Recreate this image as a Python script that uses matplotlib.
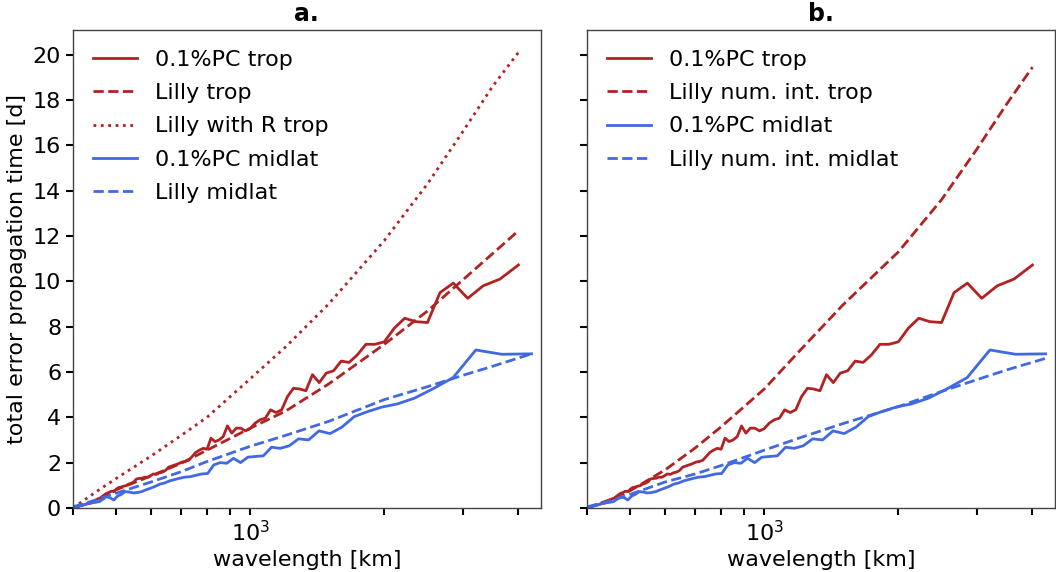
import numpy as np
import matplotlib
matplotlib.use("Agg")
import matplotlib.pyplot as plt
from matplotlib.ticker import NullFormatter, LogLocator

# zonal wavenumbers of the 0.1%PC curves (wavelength = circumference / k)
k_trop = list(range(10, 101))
k_mid = list(range(6, 65))
circ_trop = 40000.0   # km, equator
circ_mid = 25680.0    # km, midlatitudes

pc_trop = [10.72, 10.10, 9.80, 9.25, 9.92, 9.50, 8.18, 8.22, 8.37, 7.93,
           7.33, 7.22, 7.22, 6.75, 6.42, 6.48, 6.05, 5.95, 5.53, 5.88,
           5.17, 5.25, 5.28, 4.91, 4.33, 4.21, 4.33, 3.96, 3.89, 3.74,
           3.50, 3.40, 3.52, 3.52, 3.30, 3.62, 3.15, 3.00, 2.93, 3.08,
           2.59, 2.63, 2.55, 2.45, 2.27, 2.10, 2.05, 2.02, 1.95, 1.90,
           1.85, 1.80, 1.65, 1.58, 1.55, 1.48, 1.50, 1.42, 1.35, 1.36,
           1.31, 1.30, 1.28, 1.15, 1.09, 1.05, 0.98, 0.96, 0.92, 0.90,
           0.82, 0.72, 0.74, 0.68, 0.65, 0.58, 0.50, 0.43, 0.40, 0.33,
           0.27, 0.22, 0.20, 0.18, 0.15, 0.13, 0.11, 0.08, 0.06, 0.04, 0.02]

pc_mid = [6.80, 6.78, 6.97, 5.75, 5.25, 4.84, 4.59, 4.45, 4.25, 4.03,
          3.56, 3.28, 3.40, 3.00, 3.05, 2.74, 2.63, 2.68, 2.30, 2.27,
          2.24, 2.00, 2.19, 1.97, 2.00, 1.90, 1.52, 1.50, 1.44, 1.38,
          1.36, 1.31, 1.25, 1.19, 1.10, 1.05, 0.95, 0.87, 0.80, 0.72,
          0.68, 0.66, 0.70, 0.72, 0.60, 0.52, 0.35, 0.45, 0.50, 0.38,
          0.28, 0.25, 0.23, 0.21, 0.17, 0.12, 0.09, 0.05, 0.03]

# Lilly estimates
wl_lilly_trop = [400, 450, 500, 600, 700, 800, 1000, 1200, 1500, 2000, 2500, 3000, 3500, 4000]
wl_lilly_mid = [400, 450, 500, 600, 700, 800, 1000, 1200, 1500, 2000, 2500, 3000, 3500, 4280]

lilly_trop = [0, 0.3, 0.8, 1.42, 1.97, 2.55, 3.52, 4.27, 5.47, 7.22, 8.69, 10.06, 11.22, 12.23]
lilly_R_trop = [0, 0.7, 1.3, 2.3, 3.2, 4.0, 5.7, 7.1, 9.0, 11.8, 14.3, 16.6, 18.6, 20.1]
lilly_mid = [0.05, 0.35, 0.65, 1.15, 1.6, 2.05, 2.72, 3.2, 3.82, 4.78, 5.35, 5.85, 6.25, 6.8]

lilly_num_trop = [0, 0.36, 0.76, 1.69, 2.65, 3.58, 5.25, 6.93, 8.95, 11.3, 13.6, 15.83, 17.82, 19.45]
lilly_num_mid = [0.05, 0.3, 0.6, 1.15, 1.5, 1.87, 2.55, 3.09, 3.72, 4.47, 5.14, 5.66, 6.09, 6.6]

wl_trop = circ_trop / np.array(k_trop)
wl_mid = circ_mid / np.array(k_mid)

red = "firebrick"
blue = "royalblue"
fs = 16

fig = plt.figure(figsize=(10.56, 5.72), dpi=100)
ax1 = fig.add_axes([0.0691, 0.112, 0.443, 0.836])
ax2 = fig.add_axes([0.5559, 0.112, 0.443, 0.836], sharey=ax1)

# panel a
ax1.plot(wl_trop, pc_trop, color=red, lw=2, label="0.1%PC trop")
ax1.plot(wl_lilly_trop, lilly_trop, color=red, lw=2, ls="--", label="Lilly trop")
ax1.plot(wl_lilly_trop, lilly_R_trop, color=red, lw=2, ls=":", label="Lilly with R trop")
ax1.plot(wl_mid, pc_mid, color=blue, lw=2, label="0.1%PC midlat")
ax1.plot(wl_lilly_mid, lilly_mid, color=blue, lw=2, ls="--", label="Lilly midlat")

# panel b
ax2.plot(wl_trop, pc_trop, color=red, lw=2, label="0.1%PC trop")
ax2.plot(wl_lilly_trop, lilly_num_trop, color=red, lw=2, ls="--", label="Lilly num. int. trop")
ax2.plot(wl_mid, pc_mid, color=blue, lw=2, label="0.1%PC midlat")
ax2.plot(wl_lilly_mid, lilly_num_mid, color=blue, lw=2, ls="--", label="Lilly num. int. midlat")

for ax, title in [(ax1, "a."), (ax2, "b.")]:
    ax.set_xscale("log")
    ax.set_xlim(400, 4490)
    ax.set_ylim(0, 21.1)
    ax.set_yticks(np.arange(0, 21, 2))
    ax.xaxis.set_major_locator(LogLocator(base=10))
    ax.xaxis.set_minor_locator(LogLocator(base=10, subs=np.arange(2, 10)))
    ax.xaxis.set_minor_formatter(NullFormatter())
    ax.tick_params(which="both", length=5, width=1.5, labelsize=fs)
    ax.set_title(title, fontsize=17, fontweight="bold")
    ax.set_xlabel("wavelength [km]", fontsize=fs)
    for sp in ax.spines.values():
        sp.set_color("#444444")
        sp.set_linewidth(1)
    ax.legend(loc="upper left", frameon=False, fontsize=fs, labelspacing=0.6)

ax1.set_ylabel("total error propagation time [d]", fontsize=fs)
plt.setp(ax2.get_yticklabels(), visible=False)

fig.savefig("out.png", dpi=100)
